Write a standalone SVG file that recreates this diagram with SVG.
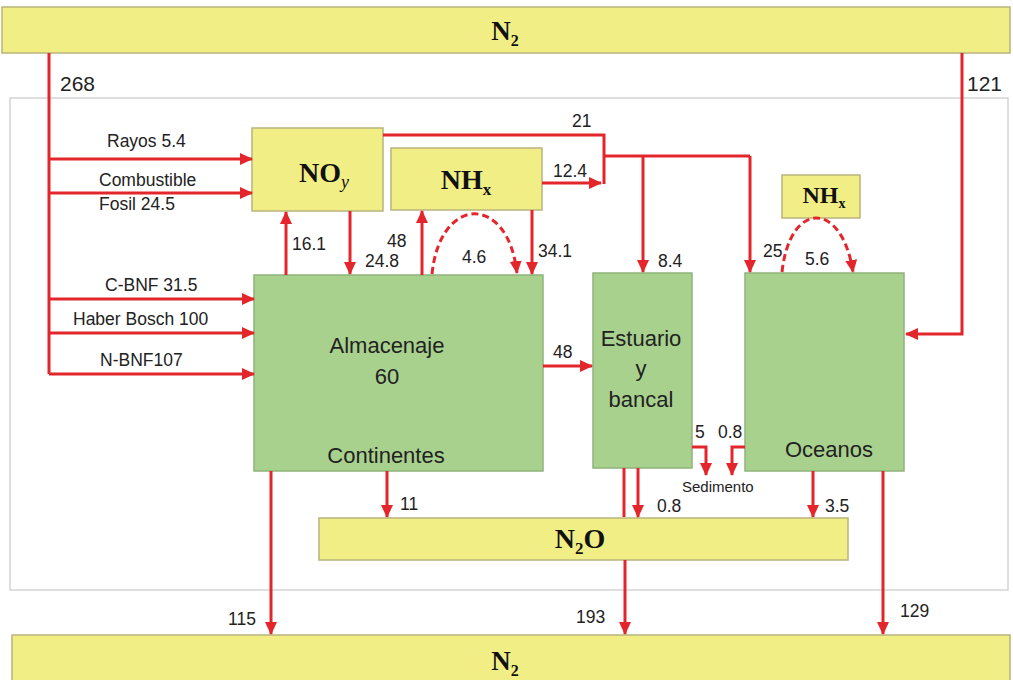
<svg xmlns="http://www.w3.org/2000/svg" width="1013" height="680" viewBox="0 0 1013 680">
<style>
.y{fill:#f2ee86;stroke:#b9b47c;stroke-width:1.5}
.g{fill:#a9d18e;stroke:#8fb378;stroke-width:1.5}
.ln{fill:none;stroke:#e3262b;stroke-width:3}
.ar{fill:none;stroke:#e3262b;stroke-width:3;marker-end:url(#ah)}
.da{fill:none;stroke:#e3262b;stroke-width:3;stroke-dasharray:7 4;marker-end:url(#ah)}
.t{font-family:"Liberation Sans",Arial,sans-serif;font-size:17.5px;fill:#222}
.big{font-size:21px}
.sm{font-size:15px}
.b{font-family:"Liberation Sans",Arial,sans-serif;font-size:22px;fill:#222;text-anchor:middle}
.c{font-family:"Liberation Serif","Times New Roman",serif;font-weight:bold;fill:#111;text-anchor:middle}
</style>
<defs>
<marker id="ah" markerUnits="userSpaceOnUse" markerWidth="14" markerHeight="14" viewBox="0 0 14 14" refX="12" refY="7" orient="auto">
<path d="M0,1 L13,7 L0,13 Z" fill="#e3262b"/>
</marker>
</defs>
<rect x="0" y="0" width="1013" height="680" fill="#fff"/>
<rect x="10" y="98" width="998" height="492" fill="none" stroke="#d4d4d4" stroke-width="1.5"/>

<g id="n2-top"><rect class="y" x="2" y="7" width="1008" height="46"/><text class="c" x="505" y="40" font-size="27">N<tspan font-size="16" dy="6">2</tspan></text></g>
<g id="noy"><rect class="y" x="252" y="128" width="131" height="83"/><text class="c" x="324" y="182" font-size="28">NO<tspan font-size="18" dy="6" font-style="italic" font-weight="normal">y</tspan></text></g>
<g id="nhx"><rect class="y" x="391" y="148" width="151" height="62"/><text class="c" x="466" y="189" font-size="28">NH<tspan font-size="17" dy="6">x</tspan></text></g>
<g id="nhx2"><rect class="y" x="782" y="175" width="78" height="43"/><text class="c" x="824" y="203" font-size="24">NH<tspan font-size="14" dy="5">x</tspan></text></g>
<g id="continentes"><rect class="g" x="254" y="275" width="289" height="196"/><text class="b" x="387" y="353">Almacenaje</text><text class="b" x="387" y="384">60</text><text class="b" x="386" y="463">Continentes</text></g>
<g id="estuario"><rect class="g" x="593" y="273" width="99" height="195"/><text class="b" x="641" y="346">Estuario</text><text class="b" x="641" y="376">y</text><text class="b" x="641" y="407">bancal</text></g>
<g id="oceanos"><rect class="g" x="745" y="273" width="159" height="198"/><text class="b" x="829" y="457">Oceanos</text></g>
<g id="n2o"><rect class="y" x="319" y="518" width="529" height="42"/><text class="c" x="580" y="548" font-size="28">N<tspan font-size="17" dy="6">2</tspan><tspan dy="-6">O</tspan></text></g>
<g id="n2-bottom"><rect class="y" x="12" y="635" width="998" height="50"/><text class="c" x="505" y="670" font-size="27">N<tspan font-size="16" dy="6">2</tspan></text></g>

<g id="connectors">
<path class="ln" d="M49,53 V374"/>
<path class="ar" d="M49,159 H252"/>
<path class="ar" d="M49,193 H252"/>
<path class="ar" d="M49,299 H254"/>
<path class="ar" d="M49,333 H254"/>
<path class="ar" d="M49,374 H254"/>
<path class="ar" d="M962,53 V334 H906"/>
<path class="ar" d="M286,275 V212"/>
<path class="ar" d="M350,211 V274"/>
<path class="ar" d="M422,275 V211"/>
<path class="da" d="M432,274 C440,195 508,193 517,273"/>
<path class="ar" d="M532,210 V274"/>
<path class="ln" d="M383,135 H604 V184"/>
<path class="ar" d="M542,183 H601"/>
<path class="ln" d="M604,156 H750"/>
<path class="ar" d="M750,156 V272"/>
<path class="ar" d="M643,156 V272"/>
<path class="da" d="M782,272 C790,200 842,200 853,272"/>
<path class="ar" d="M543,366 H592"/>
<path class="ar" d="M692,447 H706 V475"/>
<path class="ar" d="M745,447 H732 V475"/>
<path class="ln" d="M624,468 V517"/>
<path class="ar" d="M638,468 V517"/>
<path class="ar" d="M813,471 V517"/>
<path class="ar" d="M387,471 V517"/>
<path class="ar" d="M271,471 V634"/>
<path class="ar" d="M625,560 V634"/>
<path class="ar" d="M883,471 V634"/>
</g>

<g id="labels">
<text class="t big" x="60" y="91">268</text>
<text class="t big" x="967" y="91">121</text>
<text class="t" x="107" y="147">Rayos 5.4</text>
<text class="t" x="99" y="186">Combustible</text>
<text class="t" x="99" y="210">Fosil 24.5</text>
<text class="t" x="105" y="291">C-BNF 31.5</text>
<text class="t" x="73" y="325">Haber Bosch 100</text>
<text class="t" x="100" y="366">N-BNF107</text>
<text class="t" x="292" y="250">16.1</text>
<text class="t" x="365" y="267">24.8</text>
<text class="t" x="387" y="247">48</text>
<text class="t" x="462" y="263">4.6</text>
<text class="t" x="538" y="257">34.1</text>
<text class="t" x="572" y="127">21</text>
<text class="t" x="553" y="177">12.4</text>
<text class="t" x="658" y="267">8.4</text>
<text class="t" x="763" y="257">25</text>
<text class="t" x="805" y="265">5.6</text>
<text class="t" x="553" y="358">48</text>
<text class="t" x="695" y="438">5</text>
<text class="t" x="718" y="438">0.8</text>
<text class="t sm" x="682" y="492">Sedimento</text>
<text class="t" x="657" y="512">0.8</text>
<text class="t" x="825" y="512">3.5</text>
<text class="t" x="400" y="510">11</text>
<text class="t" x="228" y="625">115</text>
<text class="t" x="576" y="623">193</text>
<text class="t" x="900" y="617">129</text>
</g>
</svg>
